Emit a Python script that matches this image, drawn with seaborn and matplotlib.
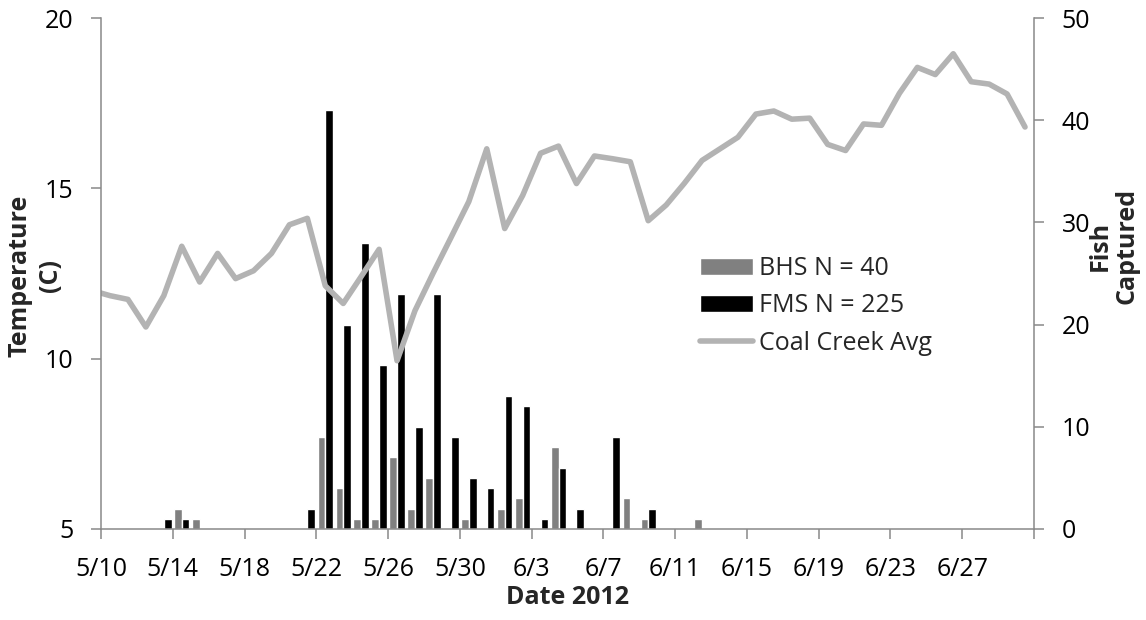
import numpy as np
import pandas as pd
import matplotlib.pyplot as plt
from matplotlib.patches import Patch
from matplotlib.lines import Line2D
import seaborn as sns

# fish captured per day (2012)
bar_dates = ['5/13', '5/14', '5/15', '5/16', '5/17', '5/18', '5/19', '5/20',
             '5/21', '5/22', '5/23', '5/24', '5/25', '5/26', '5/27', '5/28',
             '5/29', '5/30', '5/31', '6/1', '6/2', '6/3', '6/4', '6/5',
             '6/6', '6/7', '6/8', '6/9', '6/10', '6/11', '6/12']
bhs_counts = [0, 2, 1, 0, 0, 0, 0, 0,
              0, 9, 4, 1, 1, 7, 2, 5,
              0, 1, 0, 2, 3, 0, 8, 0,
              0, 0, 3, 1, 0, 0, 1]
fms_counts = [1, 1, 0, 0, 0, 0, 0, 0,
              2, 41, 20, 28, 16, 23, 10, 23,
              9, 5, 4, 13, 12, 1, 6, 2,
              0, 9, 0, 2, 0, 0, 0]

# Coal Creek daily average temperature (C)
temp_dates = ['5/9', '5/10', '5/11', '5/12', '5/13', '5/14', '5/15', '5/16',
              '5/17', '5/18', '5/19', '5/20', '5/21', '5/22', '5/23', '5/24',
              '5/25', '5/26', '5/27', '5/28', '5/29', '5/30', '5/31', '6/1',
              '6/2', '6/3', '6/4', '6/5', '6/6', '6/7', '6/8', '6/9',
              '6/10', '6/11', '6/12', '6/13', '6/14', '6/15', '6/16', '6/17',
              '6/18', '6/19', '6/20', '6/21', '6/22', '6/23', '6/24', '6/25',
              '6/26', '6/27', '6/28', '6/29', '6/30']
temp_avg = [12.0, 11.85, 11.74, 10.93, 11.85, 13.30, 12.25, 13.09,
            12.35, 12.58, 13.09, 13.93, 14.12, 12.14, 11.62, 12.41,
            13.21, 9.94, 11.41, 12.5, 13.55, 14.61, 16.16, 13.82,
            14.79, 16.03, 16.24, 15.14, 15.95, 15.87, 15.78, 14.05,
            14.51, 15.14, 15.82, 16.16, 16.50, 17.18, 17.27, 17.03,
            17.06, 16.29, 16.11, 16.89, 16.85, 17.79, 18.55, 18.34,
            18.95, 18.13, 18.06, 17.77, 16.8]

tick_labels = ['5/10', '5/14', '5/18', '5/22', '5/26', '5/30', '6/3',
               '6/7', '6/11', '6/15', '6/19', '6/23', '6/27', '']

start = pd.Timestamp('2012-05-10')


def day_pos(dates):
    d = pd.to_datetime(['2012/' + s for s in dates], format='%Y/%m/%d')
    return np.asarray((d - start).days) + 0.5


n = len(bar_dates)
fish = pd.DataFrame({'x': np.tile(day_pos(bar_dates), 2),
                     'count': bhs_counts + fms_counts,
                     'site': ['BHS'] * n + ['FMS'] * n})

sns.set_style('white')
plt.rcParams['font.family'] = ['Open Sans', 'DejaVu Sans']
gray_axis = '#898989'
fs = 18

fig = plt.figure(figsize=(11.46, 6.2), dpi=100)
ax = fig.add_axes([101 / 1146, 1 - 529 / 620, 933 / 1146, 511 / 620])
ax2 = ax.twinx()

sns.barplot(data=fish, x='x', y='count', hue='site',
            palette={'BHS': '#808080', 'FMS': 'black'},
            native_scale=True, width=0.86, errorbar=None,
            saturation=1, legend=False, ax=ax2)

sns.lineplot(x=day_pos(temp_dates), y=temp_avg, ax=ax, color='#b3b3b3',
             linewidth=4, solid_joinstyle='round', solid_capstyle='round')

# line above the bars
ax.set_zorder(ax2.get_zorder() + 1)
ax.patch.set_visible(False)

ax.set_xlim(0, 52)
ax.set_xticks(range(0, 53, 4))
ax.set_xticklabels(tick_labels)
ax.set_ylim(5, 20)
ax.set_yticks([5, 10, 15, 20])
ax2.set_ylim(0, 50)
ax2.set_yticks(range(0, 51, 10))
for a in (ax, ax2):
    a.set_xlabel('')
    a.set_ylabel('')
    a.spines['top'].set_visible(False)
    for s in a.spines.values():
        s.set_color(gray_axis)
        s.set_linewidth(1.1)
ax.spines['right'].set_visible(False)
ax2.spines['left'].set_visible(False)
ax2.spines['bottom'].set_visible(False)

ax.tick_params(axis='both', bottom=True, left=True, direction='out',
               length=7, width=1.1, color=gray_axis, labelsize=fs,
               pad=13, labelcolor='black')
ax2.tick_params(axis='y', right=True, left=False, direction='out',
                length=7, width=1.1, color=gray_axis, labelsize=fs,
                pad=13, labelcolor='black')

handles = [Patch(facecolor='#808080'), Patch(facecolor='black'),
           Line2D([], [], color='#b3b3b3', lw=4, solid_capstyle='round')]
ax.legend(handles, ['BHS N = 40', 'FMS N = 225', 'Coal Creek Avg'],
          loc='upper left', bbox_to_anchor=(700 / 1146, 1 - 256 / 620),
          bbox_transform=fig.transFigure, frameon=False, fontsize=fs,
          borderpad=0, borderaxespad=0, handlelength=2.1,
          handleheight=0.65, handletextpad=0.25, labelspacing=0.5)

# two-line axis titles, one text per line
title_kw = dict(rotation=90, ha='center', va='center', fontsize=fs,
                fontweight='bold')
fig.text(20 / 1146, 1 - 276 / 620, 'Temperature', **title_kw)
fig.text(50 / 1146, 1 - 276 / 620, '(C)', **title_kw)
fig.text(1100 / 1146, 1 - 246 / 620, 'Fish', **title_kw)
fig.text(1127 / 1146, 1 - 246 / 620, 'Captured', **title_kw)
fig.text(567.5 / 1146, 1 - 598 / 620, 'Date 2012', ha='center', va='center',
         fontsize=fs, fontweight='bold')

fig.savefig('out.png', dpi=100)
